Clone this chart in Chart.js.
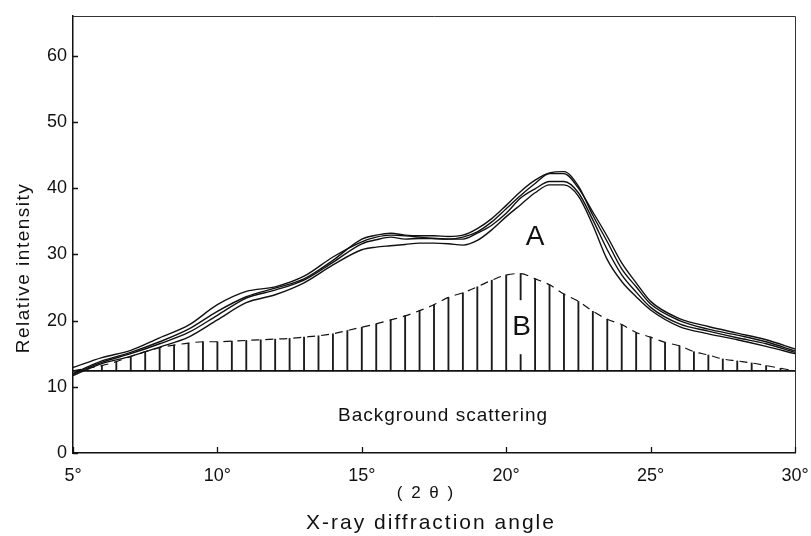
<!DOCTYPE html>
<html>
<head>
<meta charset="utf-8">
<script src="https://cdn.jsdelivr.net/npm/chart.js@4.4.1/dist/chart.umd.min.js"></script>
<style>
  html, body { margin: 0; padding: 0; background: #fff; }
  #wrap { width: 811px; height: 536px; }
</style>
</head>
<body>
<div id="wrap"><canvas id="c" width="811" height="536"></canvas></div>
<script>
// Diffraction angle 2θ (degrees) for the four measured traces
const curveAngles = [5, 6, 7, 8, 9, 10, 11, 12, 13, 14, 15, 15.5, 16, 16.5, 17, 17.5, 18, 18.5, 19, 19.5,
  20, 20.5, 21, 21.5, 22, 22.5, 23, 23.5, 24, 24.5, 25, 26, 27, 28, 29, 30];

// Total scattered intensity, four runs
const trace1 = [12.9, 14.4, 15.5, 17.4, 19.3, 22.4, 24.4, 25.1, 26.7, 29.6, 31.9, 32.6, 32.9, 32.8, 32.6, 32.4, 32.3, 32.6, 33.4, 34.9,
  36.9, 38.9, 40.7, 42.2, 42.2, 40.0, 36.4, 32.7, 28.7, 25.7, 22.9, 20.3, 19.1, 18.1, 17.1, 15.7];
const trace2 = [12.0, 13.9, 15.2, 16.8, 18.7, 21.4, 23.6, 24.9, 26.3, 29.1, 32.3, 32.9, 33.2, 32.9, 32.8, 32.8, 32.7, 32.9, 33.9, 35.4,
  37.4, 39.5, 41.2, 42.3, 42.5, 40.3, 35.9, 31.9, 27.8, 25.1, 22.5, 20.0, 18.7, 17.8, 16.8, 15.4];
const trace3 = [11.9, 13.7, 15.0, 16.5, 18.2, 20.8, 23.4, 24.6, 26.1, 28.8, 31.6, 32.2, 32.6, 32.3, 32.4, 32.4, 32.3, 32.3, 33.2, 34.4,
  36.2, 38.5, 39.9, 41.0, 41.0, 39.3, 35.2, 30.7, 26.9, 24.3, 22.0, 19.5, 18.4, 17.4, 16.5, 15.2];
const trace4 = [11.7, 13.5, 14.6, 16.0, 17.5, 20.1, 22.7, 23.9, 25.7, 28.4, 30.7, 31.1, 31.3, 31.5, 31.7, 31.7, 31.6, 31.4, 32.1, 33.7,
  35.7, 37.5, 39.3, 40.5, 40.5, 38.8, 34.4, 29.2, 25.9, 23.6, 21.6, 19.1, 18.0, 17.1, 16.1, 15.0];

// Amorphous halo (B), every 0.5°
const haloAngles = [5, 5.5, 6, 6.5, 7, 7.5, 8, 8.5, 9, 9.5, 10, 10.5, 11, 11.5, 12, 12.5, 13, 13.5, 14, 14.5,
  15, 15.5, 16, 16.5, 17, 17.5, 18, 18.5, 19, 19.5, 20, 20.5, 21, 21.5, 22, 22.5, 23, 23.5, 24, 24.5,
  25, 25.5, 26, 26.5, 27, 27.5, 28, 28.5, 29, 29.5, 30];
const haloIntensity = [12.4, 12.8, 13.2, 13.8, 14.6, 15.3, 15.9, 16.3, 16.6, 16.8, 16.8, 16.9, 17.0, 17.1, 17.2, 17.3, 17.5, 17.7, 18.0, 18.5,
  19.0, 19.5, 20.1, 20.7, 21.5, 22.4, 23.5, 24.2, 25.1, 26.1, 26.9, 27.1, 26.3, 25.4, 24.0, 22.9, 21.4, 20.2, 19.4, 18.2,
  17.5, 16.7, 16.2, 15.3, 14.8, 14.2, 13.9, 13.6, 13.2, 12.8, 12.4];

// Background scattering level
const backgroundAngles = [5, 30];
const backgroundLevel = [12.4, 12.4];

// Axis ticks
const xTicks = [5, 10, 15, 20, 25, 30];
const yTicks = [0, 10, 20, 30, 40, 50, 60];

const FONT = '"Liberation Sans", "DejaVu Sans", sans-serif';
const INK = '#111';

const pts = (xs, ys) => xs.map((x, i) => ({ x: x, y: ys[i] }));

// Hatching: one thin floating bar from the background up to the halo, inner angles only
const hatch = haloAngles.slice(1, -1).map((x, i) => ({ x: x, y: [backgroundLevel[0], haloIntensity[i + 1]] }));

const traceStyle = {
  type: 'line', borderColor: INK, borderWidth: 1.4, pointRadius: 0,
  tension: 0.4, cubicInterpolationMode: 'monotone', fill: false
};

const annotations = {
  id: 'annotations',
  afterDatasetsDraw(chart) {
    const { ctx, chartArea: a, scales: { x, y } } = chart;
    ctx.save();
    // frame: top and right sides
    ctx.strokeStyle = '#333';
    ctx.lineWidth = 1;
    ctx.beginPath();
    ctx.moveTo(a.left, a.top + 0.5);
    ctx.lineTo(a.right + 0.5, a.top + 0.5);
    ctx.lineTo(a.right + 0.5, a.bottom);
    ctx.stroke();
    // inward ticks
    ctx.strokeStyle = INK;
    ctx.lineWidth = 1.3;
    ctx.beginPath();
    xTicks.forEach(v => {
      const px = Math.round(x.getPixelForValue(v)) + 0.5;
      ctx.moveTo(px, a.bottom);
      ctx.lineTo(px, a.bottom - 6);
    });
    yTicks.forEach(v => {
      const py = Math.round(y.getPixelForValue(v)) + 0.5;
      ctx.moveTo(a.left, py);
      ctx.lineTo(a.left + 5, py);
    });
    ctx.stroke();

    // label B sits in a gap of the hatching
    const bx = x.getPixelForValue(20.5) + 1;
    const by = y.getPixelForValue(19.0);
    ctx.fillStyle = '#fff';
    ctx.fillRect(bx - 10, by - 27, 20, 54);

    ctx.fillStyle = INK;
    ctx.textAlign = 'center';
    ctx.textBaseline = 'middle';
    ctx.font = '28px ' + FONT;
    ctx.fillText('B', bx, by);
    ctx.fillText('A', x.getPixelForValue(21.0), y.getPixelForValue(32.6));

    ctx.letterSpacing = '1px';
    ctx.font = '19px ' + FONT;
    ctx.fillText('Background scattering', 443, 416);
    ctx.font = '17px ' + FONT;
    ctx.letterSpacing = '2px';
    ctx.fillText('( 2 θ )', 426, 493);
    ctx.letterSpacing = '2px';
    ctx.font = '21px ' + FONT;
    ctx.fillText('X-ray diffraction angle', 431, 523);

    ctx.translate(24, 268);
    ctx.rotate(-Math.PI / 2);
    ctx.letterSpacing = '1.5px';
    ctx.font = '19px ' + FONT;
    ctx.fillText('Relative intensity', 0, 0);
    ctx.restore();
  }
};

new Chart(document.getElementById('c'), {
  type: 'line',
  data: {
    datasets: [
      { type: 'line', data: pts(backgroundAngles, backgroundLevel), borderColor: INK, borderWidth: 1.6, pointRadius: 0, tension: 0 },
      { type: 'bar', data: hatch, backgroundColor: '#1a1a1a', barThickness: 1.2, borderWidth: 0 },
      { type: 'line', data: pts(haloAngles, haloIntensity), borderColor: INK, borderWidth: 1.2, borderDash: [8, 6],
        pointRadius: 0, tension: 0.3, cubicInterpolationMode: 'monotone' },
      Object.assign({ data: pts(curveAngles, trace1) }, traceStyle),
      Object.assign({ data: pts(curveAngles, trace2) }, traceStyle),
      Object.assign({ data: pts(curveAngles, trace3) }, traceStyle),
      Object.assign({ data: pts(curveAngles, trace4) }, traceStyle)
    ]
  },
  options: {
    responsive: false,
    animation: false,
    events: [],
    layout: { padding: { top: 16, right: 16, left: 0, bottom: 0 } },
    plugins: { legend: { display: false }, tooltip: { enabled: false } },
    scales: {
      x: {
        type: 'linear', min: 5, max: 30, offset: false,
        afterBuildTicks: s => { s.ticks = xTicks.map(v => ({ value: v })); },
        afterFit: s => { s.height = 83; s.paddingLeft = 0; s.paddingRight = 0; },
        grid: { display: false, drawTicks: false },
        border: { display: true, color: INK, width: 1.5 },
        ticks: { color: INK, padding: 12, font: { family: FONT, size: 18 }, maxRotation: 0, autoSkip: false,
          callback: v => v + '°' }
      },
      y: {
        type: 'linear', min: 0, max: 66,
        afterBuildTicks: s => { s.ticks = yTicks.map(v => ({ value: v })); },
        afterFit: s => { s.width = 73; s.paddingTop = 0; s.paddingBottom = 0; },
        grid: { display: false, drawTicks: false },
        border: { display: true, color: INK, width: 1.5 },
        ticks: { color: INK, padding: 6, font: { family: FONT, size: 18 } }
      }
    }
  },
  plugins: [annotations]
});
</script>
</body>
</html>
